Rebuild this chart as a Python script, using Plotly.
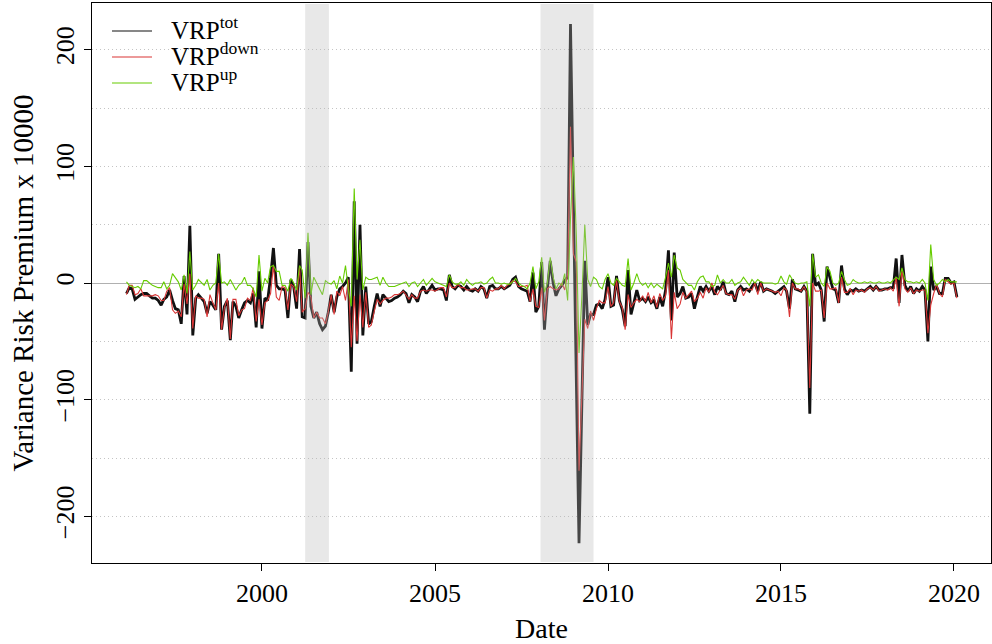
import pandas as pd
import plotly.graph_objects as go

# ---- data (monthly, starting Feb 1996) ----
start_month = "1996-02-01"

vrp_tot = [
    -9, -4, -5, -14, -12, -10, -9, -9, -11, -13,
    -13, -15, -19, -14, -12, -6, -15, -22, -23, -35,
    6, -27, 49, -45, -13, -10, -13, -16, -26, -16,
    -19, -23, 25, -40, -20, -15, -49, -16, -20, -30,
    -23, -17, -15, -17, -9, -38, 10, -39, -13, -15,
    5, 30, -2, -5, -5, -6, -30, 3, -3, -22,
    29, -29, -30,
    35, -20, -30, -25, -35, -40, -37, -25, -10, -25,
    -12, -5, -3, 0, 5, -76, 70, -52, 50, -45,
    -3, -35, -33, -20, -9, -20, -10, -13, -16, -15,
    -13, -12, -10, -7, -9, -17, -10, -12, -16, -7,
    -3, -9, -5, -2, -6, -5, -5, -6, -15, 7,
    -3, -5, -2, -3, -6, -3, -6, -7, -5, -7,
    -3, -5, -13, -3, -2, -5, -5, -3, -5, -3,
    -2, 3, 5, -3, -5, -6, -7, -16, 9, -25,
    -20,
    18, -40, -5, 19, 0, -11, -5, -2, 2, 5,
    222, 74, -74, -223, -100, 19, -36, -27, -27, -19,
    -18, -22, -14, 5, -20, -19, 6, -15, -23, -37,
    11, -27, -17, -6, -15, -13, -16, -12, -17, -15,
    -22, -12, -20, -6, 28, -32, 26, -12, -9, -3,
    -13, -12, -9, -22, -12, -3, -7, -3, -7, -3,
    -10, -3, -6, 1, -9, -10, -7, -16, -6, -3,
    -6, -5, -7, -3, 0, -7, 1, -7, -5, -6,
    -7, -9, -7, -5, -3, -7, -22, 3, -5, -6,
    -7, -3, -7, -112, 25,
    -2, 0, -6, -33, 14, 5, -5, -6, -17, 15,
    -5, -10, -6, -7, -5, -7, -6, -7, -5, -3,
    -6, -3, -6, -6, -5, -5, -4, -4, 21, -17,
    24, -2, -7, -3, -9, -5, -7, -3, -6, -50,
    14, -6, -3, -9, -9, 4, 4, 0, 1, -12,
]

vrp_down = [
    -10, -2, -2, -10, -9, -5, -11, -11, -11, -11,
    -10, -11, -15, -15, -7, -4, -23, -26, -24, -29,
    -1, -18, 8, -39, -11, -13, -13, -14, -29, -10,
    -17, -23, 0, -40, -21, -13, -48, -14, -14, -28,
    -23, -22, -13, -15, -4, -33, -14, -36, -17, -15,
    -9, 15, -12, -15, -3, -4, -23, -1, -3, -16,
    14, -25, -22,
    -8, -12, -30, -25, -30, -30, -35, -25, -10, -27,
    -7, -11, -3, -15, 3, -55, -11, -50, -10, -38,
    -8, -38, -36, -24, -14, -18, -15, -13, -13, -12,
    -10, -10, -9, -7, -10, -14, -10, -13, -13, -7,
    -6, -7, -6, -6, -7, -5, -4, -4, -12, 0,
    -4, -4, -1, -4, -4, -6, -6, -5, -5, -7,
    -4, -4, -13, -6, -7, -5, -5, -2, -5, -2,
    -1, 2, 1, -3, -3, -3, -2, -16, -5, -20,
    -21,
    -4, -32, -5, -3, -5, -6, -5, 0, -6, 8,
    134, 25, 18, -161, -90, -31, -39, -24, -32, -22,
    -15, -17, -17, -3, -20, -17, 2, -16, -21, -40,
    -10, -21, -17, -14, -16, -11, -16, -8, -17, -11,
    -21, -9, -15, -11, 11, -48, -8, -22, -18, -8,
    -13, -10, -7, -16, -13, -8, -13, -4, -8, 0,
    -8, -10, -6, -2, -9, -10, -10, -14, -6, -4,
    -11, -6, -5, -6, 0, -10, 0, -7, -5, -6,
    -7, -8, -7, -11, -4, -6, -29, 0, -5, -5,
    -7, -3, -8, -90, 0,
    -7, -7, -6, -30, 0, -5, -5, -4, -17, 5,
    -8, -8, -5, -10, -6, -7, -6, -8, -5, -4,
    -6, -3, -7, -6, -5, -6, -4, -7, 5, -20,
    11, -5, -8, -4, -9, -6, -7, -6, -6, -43,
    -19, -9, -1, -9, -12, 3, 1, -1, 0, -13,
]

vrp_up = [
    1, -2, -3, -4, -3, -5, 2, 2, 0, -2,
    -3, -4, -4, 1, -5, -2, 8, 4, 1, -6,
    7, -9, 27, -6, -2, 3, 0, -2, 3, -6,
    -2, 0, 25, 0, 1, -2, 3, -2, -6, -2,
    0, 5, -2, -2, -5, -12, 24, -7, 4, 0,
    14, 15, 10, 10, -2, -2, -7, 4, 0, -6,
    15, 11, -13,
    43, -10, 5, 0, -5, -10, 2, 0, -1, 2,
    -5, 6, 0, 15, -5, -20, 81, 3, 37, -6,
    5, 3, 3, 4, 5, -2, 5, 0, -3, -3,
    -3, -2, -1, 0, 1, -3, 0, 1, -3, 0,
    3, -2, 1, 4, 1, 0, -1, -2, -3, 7,
    1, -1, -1, 1, -2, 3, 0, -2, 0, 0,
    1, -1, 0, 3, 5, 0, 0, -1, 0, -1,
    -1, 1, 4, 0, -2, -3, -5, 0, 14, -5,
    1,
    22, -8, 0, 22, 5, -5, 0, -2, 8, -15,
    55, 108, 40, -60, -10, 50, 3, -3, 5, 3,
    -3, -5, 3, 8, 0, -2, 4, 1, -2, -3,
    21, -6, 0, 8, 1, -2, 0, -4, 0, -4,
    -1, -3, -5, 5, 17, 5, 24, 13, 11, 3,
    0, -2, -2, -6, 1, 5, 6, 1, 1, -3,
    -2, 7, 0, 3, 0, 0, 3, -2, 0, 1,
    5, 1, -2, 3, 0, 3, 1, 0, 0, 0,
    0, -1, 0, 6, 1, -1, 7, 3, 0, -1,
    0, 0, 1, -20, 25,
    5, 7, 0, -3, 14, 10, 0, -2, 0, 10,
    3, -2, -1, 3, 1, 0, 0, 1, 0, 1,
    0, 0, 1, 0, 0, 1, 0, 3, 5, 3,
    13, 3, 1, 1, 0, 1, 0, 3, 0, -15,
    33, 3, -2, 0, 3, 1, 3, 1, 1, 1,
]

recession_starts = ["2001-04-01", "2008-01-20"]
recession_ends = ["2001-12-08", "2009-08-01"]

series_names = ["VRP<sup>tot</sup>", "VRP<sup>down</sup>", "VRP<sup>up</sup>"]
series_colors = ["#111111", "#d93535", "#66cc00"]

x_tick_years = [2000, 2005, 2010, 2015, 2020]
y_tick_vals = [-200, -100, 0, 100, 200]
y_tick_text = ["\u2212200", "\u2212100", "0", "100", "200"]

# ---- figure ----
dates = pd.date_range(start_month, periods=len(vrp_tot), freq="MS")

FONT = "Liberation Serif"
fig = go.Figure()

values = [vrp_tot, vrp_down, vrp_up]
widths = [2.8, 1.1, 1.1]
for vals, name, col, w in zip(values, series_names, series_colors, widths):
    fig.add_trace(go.Scatter(x=dates[:len(vals)], y=vals, mode="lines",
                             line=dict(color=col, width=w), name=name,
                             showlegend=False, hoverinfo="skip"))

for s, e in zip(recession_starts, recession_ends):
    fig.add_shape(type="rect", xref="x", yref="paper", x0=s, x1=e, y0=0.002, y1=0.998,
                  fillcolor="rgb(182,182,182)", opacity=0.32, line=dict(width=0),
                  layer="above")

# manual legend (plot area spans 899 x 560 px)
PW, PH = 899.0, 560.0
legend_rows_px = [31, 57, 83]
for row_y, name, col in zip(legend_rows_px, series_names, series_colors):
    yp = (563 - row_y) / PH
    fig.add_shape(type="line", xref="paper", yref="paper",
                  x0=(112 - 92) / PW, x1=(152 - 92) / PW, y0=yp, y1=yp,
                  line=dict(color=col, width=1.2))
    fig.add_annotation(xref="paper", yref="paper", x=(170 - 92) / PW,
                       y=(563 - row_y - 14) / PH,
                       xanchor="left", yanchor="bottom", showarrow=False,
                       borderpad=0,
                       text=name, font=dict(family=FONT, size=25, color="black"))

fig.update_layout(
    width=992, height=644,
    margin=dict(l=92, r=1, t=3, b=81),
    paper_bgcolor="white", plot_bgcolor="white",
    font=dict(family=FONT, size=26, color="black"),
    showlegend=False,
    xaxis=dict(
        type="date",
        range=["1995-02-02", "2021-01-26"],
        tickvals=[f"{y}-01-01" for y in x_tick_years],
        ticktext=[str(y) for y in x_tick_years],
        ticks="outside", ticklen=7, tickcolor="black",
        showgrid=False, zeroline=False,
        showline=True, linecolor="black", linewidth=1, mirror=True,
        tickfont=dict(family=FONT, size=26),
        title=dict(text="Date", font=dict(family=FONT, size=28), standoff=12),
    ),
    yaxis=dict(
        range=[-240, 240],
        tickvals=y_tick_vals, ticktext=y_tick_text, tickangle=-90,
        ticks="outside", ticklen=7, tickcolor="black",
        showgrid=True, gridcolor="#c4c4c4", griddash="1px,3px", gridwidth=1,
        minor=dict(dtick=50, tick0=0, showgrid=True, gridcolor="#c4c4c4",
                   griddash="1px,3px", ticks=""),
        zeroline=True, zerolinecolor="#b0b0b0", zerolinewidth=1,
        showline=True, linecolor="black", linewidth=1, mirror=True,
        tickfont=dict(family=FONT, size=26),
        title=dict(text="Variance Risk Premium x 10000",
                   font=dict(family=FONT, size=29), standoff=8),
    ),
)

fig.write_html("out.html")
